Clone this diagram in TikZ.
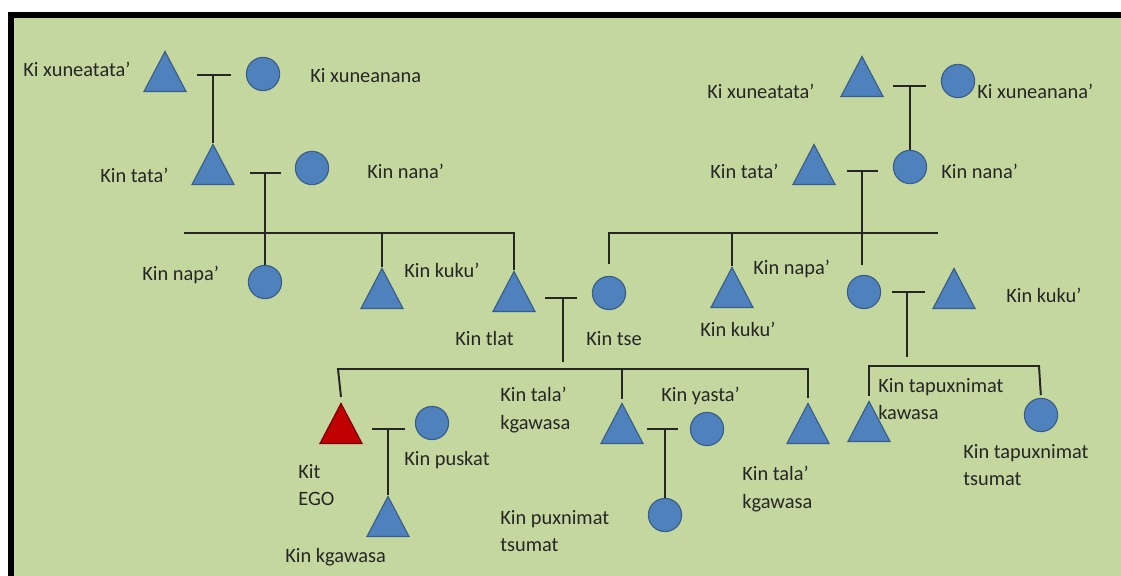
\documentclass[tikz,border=0pt]{standalone}
\usepackage{fontspec}
\setmainfont{Carlito}
\usetikzlibrary{shapes.geometric,calc}
\definecolor{bggreen}{RGB}{196,215,158}
\definecolor{kinblue}{RGB}{79,129,189}
\definecolor{kinedge}{RGB}{56,93,138}
\definecolor{egored}{RGB}{192,0,0}
\definecolor{egoedge}{RGB}{120,0,0}
\definecolor{ink}{RGB}{38,38,38}
\tikzset{
  male/.style={isosceles triangle,isosceles triangle stretches,shape border rotate=90,
    minimum width=1.05cm,minimum height=1cm,inner sep=0,anchor=apex,
    fill=kinblue,draw=kinedge,line width=0.8pt},
  female/.style={circle,minimum size=0.83cm,inner sep=0,fill=kinblue,draw=kinedge,line width=0.8pt},
  ego/.style={male,fill=egored,draw=egoedge},
  kin/.style={anchor=base west,inner sep=0,text=ink,font=\fontsize{14.5}{19.5}\selectfont},
  kintwo/.style={kin,anchor=north west,align=left},
  tie/.style={draw=ink,line width=1.4pt}
}
\begin{document}
\begin{tikzpicture}[x=0.025cm,y=-0.025cm]
      \useasboundingbox (0,0) rectangle (1121,576);
      \fill[bggreen] (11,15) rectangle (1121,576);
      \draw[line width=0.15cm] (11,576) -- (11,15.5) -- (1121,15.5);

      \node[male] (xta) at (165,50) {};
      \node[female] (xna) at (263,74) {};
      \node[male] (tta) at (213,143) {};
      \node[female] (nna) at (312,168) {};
      \node[female] (npa) at (265,282) {};
      \node[male] (kka) at (382,267) {};
      \node[male] (tlat) at (514,270) {};
      \node[female] (tse) at (609,293) {};
      \node[male] (xtb) at (862,55) {};
      \node[female] (xnb) at (958,81) {};
      \node[male] (ttb) at (814,143) {};
      \node[female] (nnb) at (910,167) {};
      \node[male] (kkb) at (732,266) {};
      \node[female] (npb) at (864,292) {};
      \node[male] (kkc) at (954,267) {};
      \node[ego] (egot) at (341,402) {};
      \node[female] (pusk) at (432,423) {};
      \node[male] (kgaw) at (388,495) {};
      \node[male] (tla) at (622,402) {};
      \node[female] (yas) at (707,429) {};
      \node[female] (pux) at (665,515) {};
      \node[male] (tlb) at (808,402) {};
      \node[male] (tapk) at (869,400) {};
      \node[female] (taps) at (1041,415) {};

      \node[kin] (lxta) at (23,77) {Ki xuneatata’};
      \node[kin] (lxna) at (310,83) {Ki xuneanana};
      \node[kin] (ltta) at (100,183) {Kin tata’};
      \node[kin] (lnna) at (367,179) {Kin nana’};
      \node[kin] (lnpa) at (142,281) {Kin napa’};
      \node[kin] (lkka) at (404,278) {Kin kuku’};
      \node[kin] (ltlat) at (455,346) {Kin tlat};
      \node[kin] (ltse) at (586,346) {Kin tse};
      \node[kin] (lxtb) at (707,99) {Ki xuneatata’};
      \node[kin] (lxnb) at (977,99) {Ki xuneanana’};
      \node[kin] (lttb) at (710,179) {Kin tata’};
      \node[kin] (lnnb) at (941,179) {Kin nana’};
      \node[kin] (lnpb) at (753,275) {Kin napa’};
      \node[kin] (lkkb) at (700,337) {Kin kuku’};
      \node[kin] (lkkc) at (1006,303) {Kin kuku’};
      \node[kin] (lyas) at (661,402) {Kin yasta’};
      \node[kin] (lpusk) at (404,466) {Kin puskat};
      \node[kin] (lkgaw) at (285,563) {Kin kgawasa};
      \node[kintwo] (ltla) at (500,387) {Kin tala’\\kgawasa};
      \node[kintwo] (legot) at (298,464) {Kit\\EGO};
      \node[kintwo] (lpux) at (500,510) {Kin puxnimat\\tsumat};
      \node[kintwo] (ltlb) at (742,466) {Kin tala’\\kgawasa};
      \node[kintwo] (ltapk) at (878,378) {Kin tapuxnimat\\kawasa};
      \node[kintwo] (ltaps) at (963,444) {Kin tapuxnimat\\tsumat};

      \coordinate (m1a) at (197,75);  \coordinate (m1b) at (231,75);  \coordinate (m1) at (213,75);
      \coordinate (m2a) at (250,173); \coordinate (m2b) at (281,173); \coordinate (m2) at (265,173);
      \coordinate (m3a) at (545,298); \coordinate (m3b) at (577,298); \coordinate (m3) at (563,298);
      \coordinate (m4a) at (893,86);  \coordinate (m4b) at (926,86);  \coordinate (m4) at (910,86);
      \coordinate (m5a) at (847,171); \coordinate (m5b) at (878,171); \coordinate (m5) at (862,171);
      \coordinate (m6a) at (892,292); \coordinate (m6b) at (925,292); \coordinate (m6) at (907,292);
      \coordinate (m7a) at (372,429); \coordinate (m7b) at (405,429); \coordinate (m7) at (388,429);
      \coordinate (m8a) at (647,429); \coordinate (m8b) at (678,429); \coordinate (m8) at (665,429);
      \coordinate (m3e) at (563,362);
      \coordinate (m5e) at (862,265);
      \coordinate (m6e) at (907,357);
      \coordinate (s1a) at (184,233); \coordinate (s1b) at (514,233);
      \coordinate (s2a) at (609,233); \coordinate (s2b) at (938,233);
      \coordinate (s3a) at (338,369); \coordinate (s3b) at (808,369);
      \coordinate (s4a) at (869,366); \coordinate (s4b) at (1039,366);

      \draw[tie] (m1a) -- (m1b) (m1) -- (tta.apex);
      \draw[tie] (m2a) -- (m2b) (m2) -- (npa.north);
      \draw[tie] (m3a) -- (m3b) (m3) -- (m3e);
      \draw[tie] (m4a) -- (m4b) (m4) -- (nnb.north);
      \draw[tie] (m5a) -- (m5b) (m5) -- (m5e);
      \draw[tie] (m6a) -- (m6b) (m6) -- (m6e);
      \draw[tie] (m7a) -- (m7b) (m7) -- (kgaw.apex);
      \draw[tie] (m8a) -- (m8b) (m8) -- (pux.north);

      \draw[tie] (s1a) -- (s1b) -- (tlat.apex);
      \draw[tie] (kka.apex |- s1a) -- (kka.apex);
      \draw[tie] (tse.north) ++(0,-12) -- (s2a) -- (s2b);
      \draw[tie] (kkb.apex |- s2a) -- (kkb.apex);
      \draw[tie,shorten >=3pt] (egot.apex) ++(0,-5) -- (s3a) -- (s3b) -- (tlb.apex);
      \draw[tie,shorten >=2pt] (tla.apex |- s3a) -- (tla.apex);
      \draw[tie,shorten >=2pt] (tapk.apex) ++(0,-4) -- (s4a) -- (s4b) -- (taps.north);
\end{tikzpicture}
\end{document}
